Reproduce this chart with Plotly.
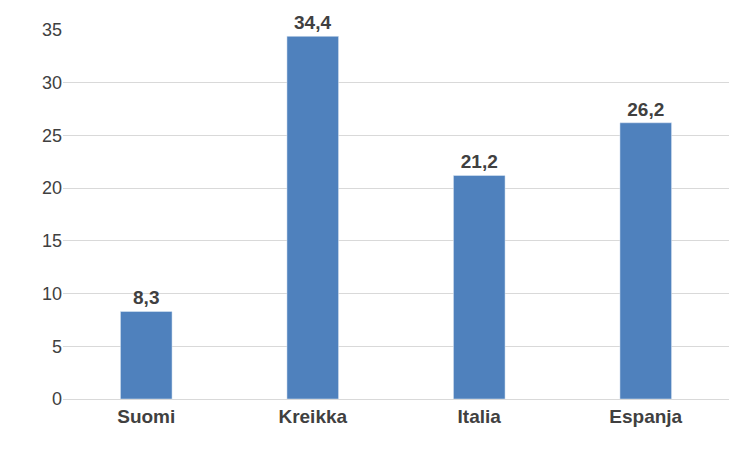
import plotly.graph_objects as go

maat = ["Suomi", "Kreikka", "Italia", "Espanja"]
arvot = [8.3, 34.4, 21.2, 26.2]
y_ticks = [0, 5, 10, 15, 20, 25, 30, 35]

fig = go.Figure(go.Bar(
    x=maat, y=arvot,
    marker_color="#4f81bd",
    width=0.31,
    text=[f"{v:.1f}".replace(".", ",") for v in arvot],
    textposition="outside",
    textfont=dict(size=19, color="#404040", family="Liberation Sans"),
    cliponaxis=False,
))

# page body adds an 8px offset, so the figure is a bit smaller
fig.update_layout(
    width=744, height=444,
    margin=dict(l=55, r=23, t=18, b=53),
    paper_bgcolor="white", plot_bgcolor="white",
    separators=",.",
    font=dict(family="Liberation Sans", color="#404040"),
    showlegend=False,
    yaxis=dict(range=[0, 35], tickvals=y_ticks, gridcolor="#d9d9d9",
               tickfont=dict(size=18), ticks="", zeroline=False,
               showline=False),
    xaxis=dict(tickfont=dict(size=19, family="Liberation Sans"),
               showline=True, linecolor="#d9d9d9", ticks=""),
)
fig.update_xaxes(tickprefix="<b>", ticksuffix="</b>")
fig.update_traces(texttemplate="<b>%{text}</b>")

fig.write_html("out.html")
